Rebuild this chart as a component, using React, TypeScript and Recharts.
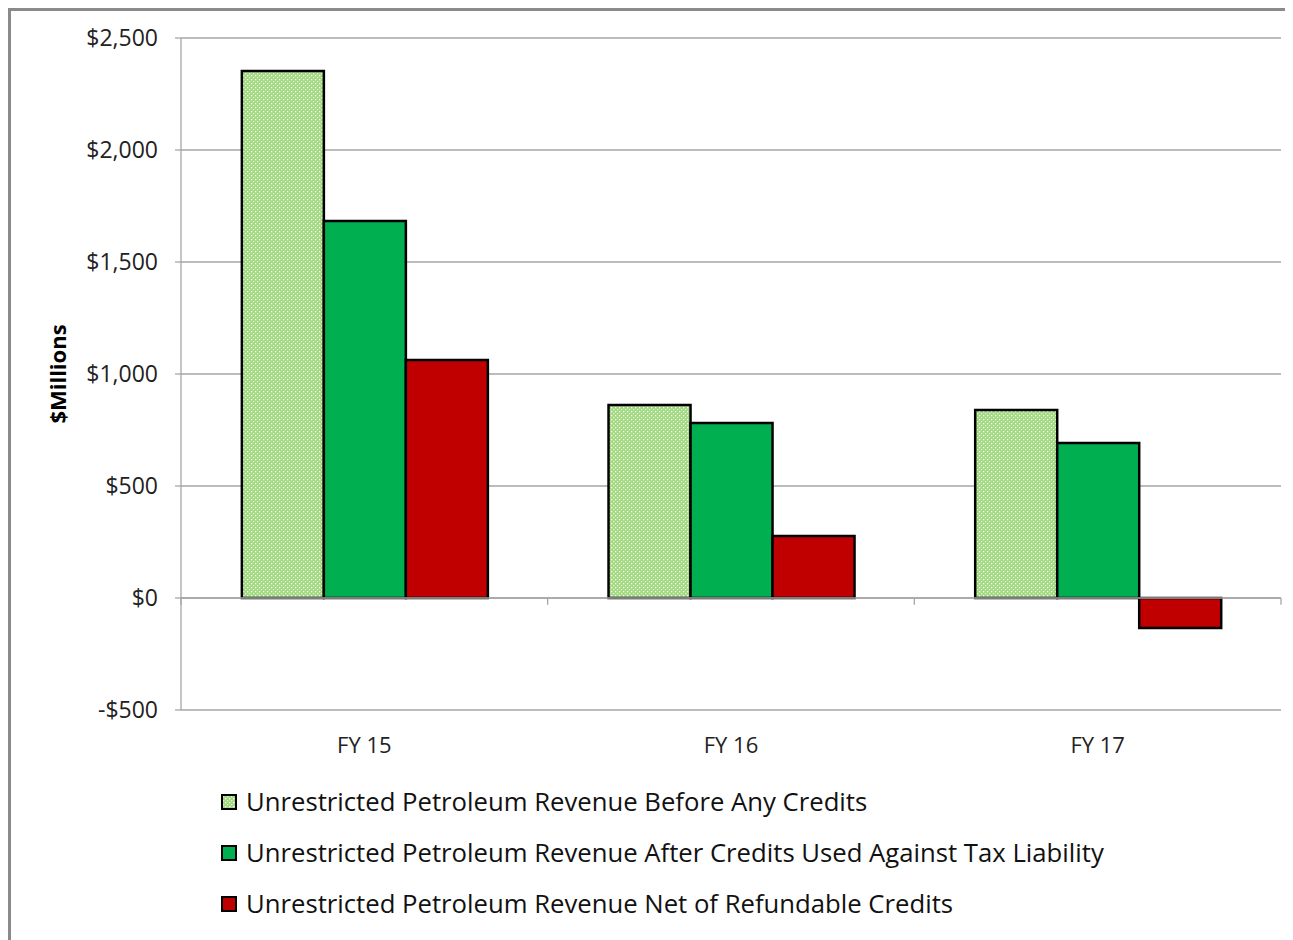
import React from "react";
import {
  BarChart,
  Bar,
  XAxis,
  YAxis,
  CartesianGrid,
  ReferenceLine,
} from "recharts";

const years = ["FY 15", "FY 16", "FY 17"];
const beforeCredits = [2353, 862, 839];
const afterTaxCredits = [1683, 781, 692];
const netRefundable = [1062, 277, -134];
const yTicks = [-500, 0, 500, 1000, 1500, 2000, 2500];

const seriesNames = [
  "Unrestricted Petroleum Revenue Before Any Credits",
  "Unrestricted Petroleum Revenue After Credits Used Against Tax Liability",
  "Unrestricted Petroleum Revenue Net of Refundable Credits",
];

const data = years.map((y, i) => ({
  year: y,
  before: beforeCredits[i],
  after: afterTaxCredits[i],
  net: netRefundable[i],
}));

const FONT = "'Open Sans', 'Noto Sans', sans-serif";
const GREEN = "#00b050";
const RED = "#c00000";
const GRID = "#a6a6a6";

const fmt = (v: number) =>
  (v < 0 ? "-$" : "$") + Math.abs(v).toLocaleString("en-US");

// little tick marks on the zero line at each category edge
const edgeMarks = [
  ...years.map((y) => ({ x: y, pos: "start" as const })),
  { x: years[years.length - 1], pos: "end" as const },
];

function DotPattern({ id }: { id: string }) {
  return (
    <pattern id={id} width={4} height={4} patternUnits="userSpaceOnUse">
      <rect width={4} height={4} fill="#a0d97e" />
      <rect x={0} y={0} width={1.3} height={1.3} fill="#ffffff" />
      <rect x={2} y={2} width={1.3} height={1.3} fill="#e6f5da" />
    </pattern>
  );
}

function LegendSwatch({ kind }: { kind: number }) {
  const fill = kind === 0 ? "url(#dotsLegend)" : kind === 1 ? GREEN : RED;
  return (
    <svg width={16} height={16} style={{ display: "block" }}>
      <defs>
        <DotPattern id="dotsLegend" />
      </defs>
      <rect x={1} y={1} width={14} height={14} fill={fill} stroke="#000" strokeWidth={2} />
    </svg>
  );
}

export default function App() {
  return (
    <div
      style={{
        position: "relative",
        width: 1282,
        height: 929,
        borderTop: "3px solid #8a8a8a",
        borderLeft: "3px solid #8a8a8a",
        background: "#fff",
        fontFamily: FONT,
      }}
    >
      <BarChart
        width={1282}
        height={760}
        data={data}
        margin={{ top: 27, right: 12, left: 0, bottom: 21 }}
        barCategoryGap="16.6%"
        barGap={0}
      >
        <defs>
          <DotPattern id="dots" />
        </defs>
        <CartesianGrid vertical={false} stroke={GRID} strokeWidth={1.3} />
        <XAxis
          dataKey="year"
          axisLine={false}
          tickLine={false}
          height={40}
          tickMargin={21}
          tick={{ fill: "#222", fontSize: 22, fontFamily: FONT }}
        />
        <YAxis
          width={170}
          domain={[-500, 2500]}
          ticks={yTicks}
          tickFormatter={fmt}
          interval={0}
          stroke={GRID}
          strokeWidth={1.3}
          tickSize={6}
          tickMargin={17}
          tick={{ fill: "#222", fontSize: 23, fontFamily: FONT }}
          label={{
            value: "$Millions",
            angle: -90,
            position: "center",
            dx: -38,
            style: { fontWeight: 700, fontSize: 22, fill: "#000", fontFamily: FONT },
          }}
        />
        <ReferenceLine y={0} stroke={GRID} strokeWidth={1.5} />
        {edgeMarks.map((m, i) => (
          <ReferenceLine
            key={i}
            position={m.pos}
            segment={[
              { x: m.x, y: 0 },
              { x: m.x, y: -30 },
            ]}
            stroke={GRID}
            strokeWidth={1.3}
          />
        ))}
        <Bar
          dataKey="before"
          fill="url(#dots)"
          stroke="#000"
          strokeWidth={2.5}
          isAnimationActive={false}
        />
        <Bar
          dataKey="after"
          fill={GREEN}
          stroke="#000"
          strokeWidth={2.5}
          isAnimationActive={false}
        />
        <Bar
          dataKey="net"
          fill={RED}
          stroke="#000"
          strokeWidth={2.5}
          isAnimationActive={false}
        />
      </BarChart>
      <div
        style={{
          position: "absolute",
          left: 210,
          top: 776,
          display: "flex",
          flexDirection: "column",
          gap: 22,
        }}
      >
        {seriesNames.map((name, i) => (
          <div key={name} style={{ display: "flex", alignItems: "center", height: 29 }}>
            <LegendSwatch kind={i} />
            <span style={{ marginLeft: 9, fontSize: 25.7, color: "#111", whiteSpace: "nowrap" }}>
              {name}
            </span>
          </div>
        ))}
      </div>
    </div>
  );
}
